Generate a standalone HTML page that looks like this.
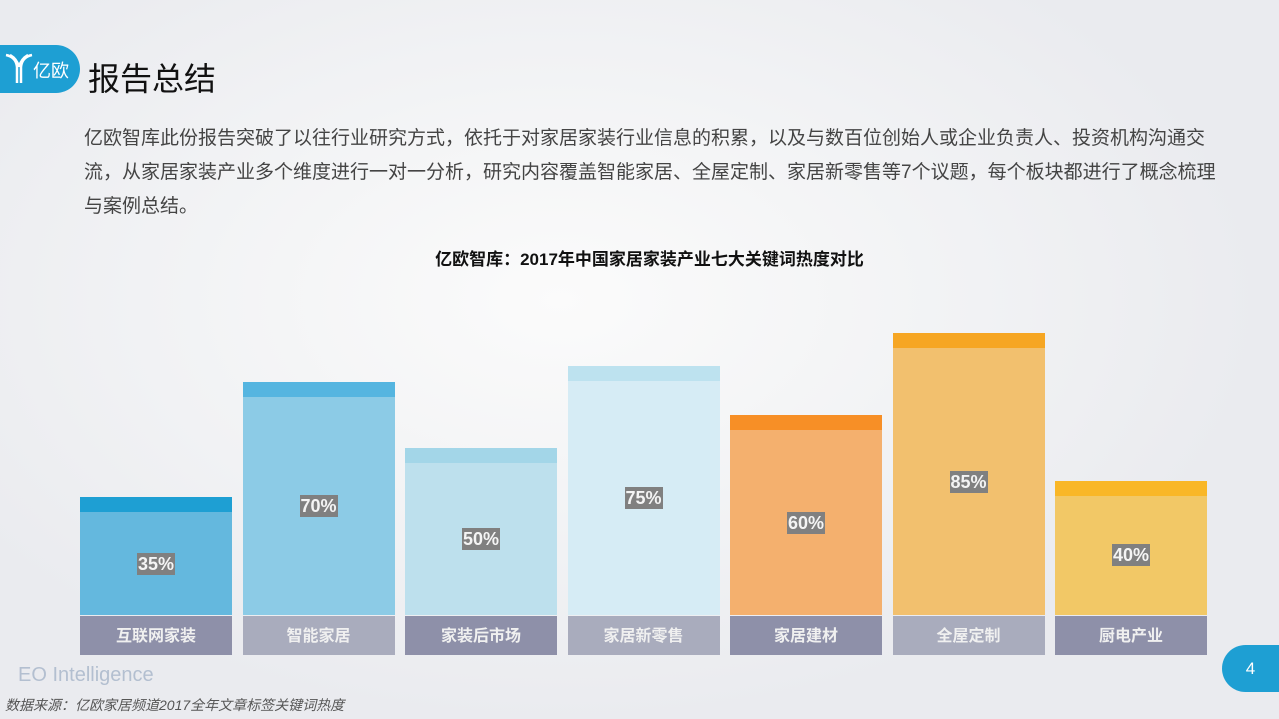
<!DOCTYPE html>
<html><head><meta charset="utf-8"><style>
body{margin:0;width:1279px;height:719px;overflow:hidden;font-family:"Liberation Sans","Noto Sans CJK SC",sans-serif;background:radial-gradient(ellipse 700px 420px at 560px 300px,#fbfbfb 0%,#f1f2f4 60%,#eaebef 100%);position:relative}
.abs{position:absolute}
</style></head><body>
<div class="abs" style="left:0;top:45px;width:80px;height:48px;background:#1e9fd3;border-radius:0 24px 24px 0;color:#fff">
<svg class="abs" style="left:4px;top:8px" width="30" height="32" viewBox="0 0 30 32"><path d="M2 2 Q12 4 13 14 L13 30 M28 2 Q18 4 17 14 L17 30 M6 2 Q13 6 15 14 M24 2 Q17 6 15 14" stroke="#fff" stroke-width="2.5" fill="none"/></svg>
<span class="abs" style="left:33px;top:12px;font-size:18px">亿欧</span></div>
<div class="abs" style="left:88px;top:54px;font-size:32px;color:#111">报告总结</div>
<div class="abs" style="left:84px;top:122px;width:1132px;font-size:19px;line-height:34px;color:#444">亿欧智库此份报告突破了以往行业研究方式，依托于对家居家装行业信息的积累，以及与数百位创始人或企业负责人、投资机构沟通交流，从家居家装产业多个维度进行一对一分析，研究内容覆盖智能家居、全屋定制、家居新零售等7个议题，每个板块都进行了概念梳理与案例总结。</div>
<div class="abs" style="left:0;width:1299px;top:245px;text-align:center;font-size:17px;font-weight:bold;color:#111">亿欧智库：2017年中国家居家装产业七大关键词热度对比</div>
<div id="chart"></div>
<div class="abs" style="left:18px;top:664px;font-size:20px;color:#b3bfd0">EO Intelligence</div>
<div class="abs" style="left:5px;top:695px;font-size:14px;font-style:italic;color:#555">数据来源：亿欧家居频道2017全年文章标签关键词热度</div>
<div class="abs" style="left:1222px;top:645px;width:57px;height:47px;background:#1e9fd3;border-radius:24px 0 0 24px;color:#fff;font-size:17px;line-height:47px;text-align:center">4</div>
<script>
const categories=["互联网家装","智能家居","家装后市场","家居新零售","家居建材","全屋定制","厨电产业"];
const values=[35,70,50,75,60,85,40];
const bodyColors=["#64b8de","#8ccbe6","#bde0ed","#d6ecf5","#f4b06e","#f2c06e","#f2c866"];
const headColors=["#1e9fd3","#55b5e0","#a3d6e8","#bde2ef","#f78f26","#f6a623","#f9b727"];
const labelColors=["#8e90a9","#a9acbd"];
const baseY=615,x0=80,step=162.5,bw=152;
function yScale(v){return 612-3.28*v+Math.max(0,0)*v;}
function xScale(i){return x0+i*step;}
const c=document.getElementById('chart');
values.forEach((v,i)=>{
 const x=xScale(i),top=yScale(v);
 const b=document.createElement('div');
 
 
 b.className='abs';
 b.style.cssText=`left:${x}px;top:${top}px;width:${bw}px;height:${baseY-top}px;background:${bodyColors[i]};border-top:15px solid ${headColors[i]};box-sizing:border-box`;
 c.appendChild(b);
 const t=document.createElement('div');
 
 
 t.className='abs';
 const mid=(top+15+baseY)/2;
 t.style.cssText=`left:${x+bw/2-19}px;top:${mid-11}px;width:38px;height:22px;background:#808080;color:#f4f4f4;font-weight:bold;font-size:18px;line-height:22px;text-align:center`;
 t.textContent=v+'%';
 c.appendChild(t);
 const l=document.createElement('div');
 
 
 l.className='abs';
 l.style.cssText=`left:${x}px;top:616px;width:${bw}px;height:39px;background:${labelColors[i%2]};color:#f0f0f0;font-weight:bold;font-size:16px;line-height:41px;text-align:center`;
 l.textContent=categories[i];
 c.appendChild(l);
});
</script>
</body></html>
